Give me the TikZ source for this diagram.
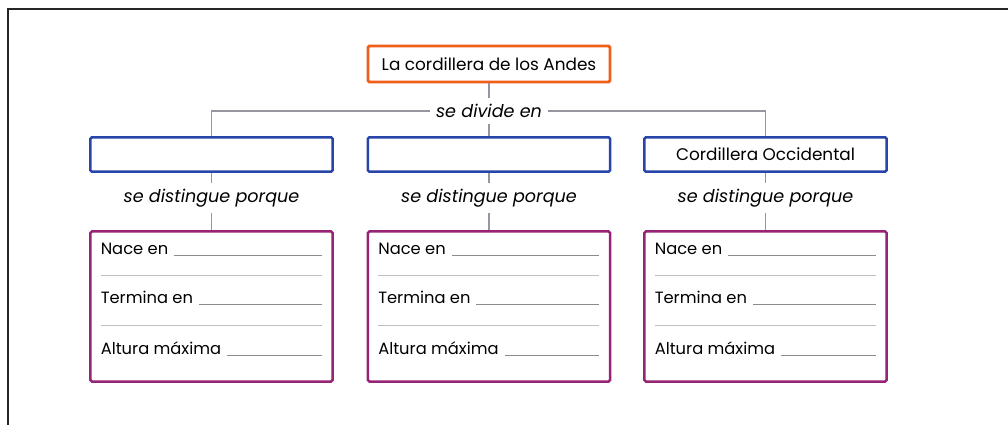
\documentclass[tikz,border=0pt]{standalone}
\usepackage{fontspec}
\setmainfont{Poppins}
\usetikzlibrary{positioning}

\definecolor{naranja}{RGB}{238,95,25}
\definecolor{azul}{RGB}{40,70,170}
\definecolor{morado}{RGB}{150,35,115}
\definecolor{linea}{RGB}{150,150,160}

\tikzset{
  cajatitulo/.style={draw=naranja, line width=2pt, rounded corners=1pt, fill=white,
    minimum width=6.05cm, minimum height=0.9cm, font=\fontsize{12}{14}\selectfont},
  cajaazul/.style={draw=azul, line width=1.8pt, rounded corners=1pt, fill=white,
    minimum width=6.05cm, minimum height=0.86cm, font=\fontsize{12}{14}\selectfont},
  cajamorada/.style={draw=morado, line width=1.8pt, rounded corners=1pt,
    minimum width=6.05cm, minimum height=3.75cm},
  enlace/.style={draw=linea, line width=0.8pt},
  rotulo/.style={fill=white, inner sep=4pt, font=\fontsize{12.5}{14}\itshape},
  campo/.style={anchor=base west, inner sep=0pt, font=\fontsize{11.6}{13}\selectfont},
  raya/.style={draw=black!45, line width=0.5pt},
  raya suave/.style={draw=black!25, line width=0.5pt}
}

\begin{document}
\begin{tikzpicture}[x=0.025cm, y=-0.025cm]
  \useasboundingbox (0,0) rectangle (1008,425);
  % marco
  \draw[line width=1.3pt, black!85] (8,425) -- (8,9) -- (1008,9);

  % titulo
  \node[cajatitulo] (andes) at (489,64) {La cordillera de los Andes};
  \node[rotulo] (divide) at (489,111) {se divide en};
  \draw[enlace] (andes) -- (divide);

  % tres cordilleras
  \foreach \n/\x/\nombre in {1/211.5/{}, 2/489/{}, 3/765.5/{Cordillera Occidental}} {
    \node[cajaazul] (c\n) at (\x,154.5) {\nombre};
    \node[rotulo] (d\n) at (\x,198) {se distingue porque};
    \node[cajamorada] (f\n) at (\x,306.5) {};
    \draw[enlace] (c\n) -- (d\n);
    \draw[enlace] (d\n) -- (f\n);

    % campos para completar
    \node[campo] (nace\n) at (\x-111,255) {Nace en};
    \node[campo] (termina\n) at (\x-111,304) {Termina en};
    \node[campo] (altura\n) at (\x-111,355) {Altura máxima};
    \draw[raya] ([xshift=4pt]nace\n.base east) -- (\x+110,255);
    \draw[raya suave] (\x-111,275) -- (\x+110,275);
    \draw[raya] ([xshift=4pt]termina\n.base east) -- (\x+110,304);
    \draw[raya suave] (\x-111,325) -- (\x+110,325);
    \draw[raya] ([xshift=4pt]altura\n.base east) -- (\x+110,355);
  }
  \draw[enlace] (divide) -- (c2);
  \draw[enlace] (divide.west) -| (c1);
  \draw[enlace] (divide.east) -| (c3);
\end{tikzpicture}
\end{document}
